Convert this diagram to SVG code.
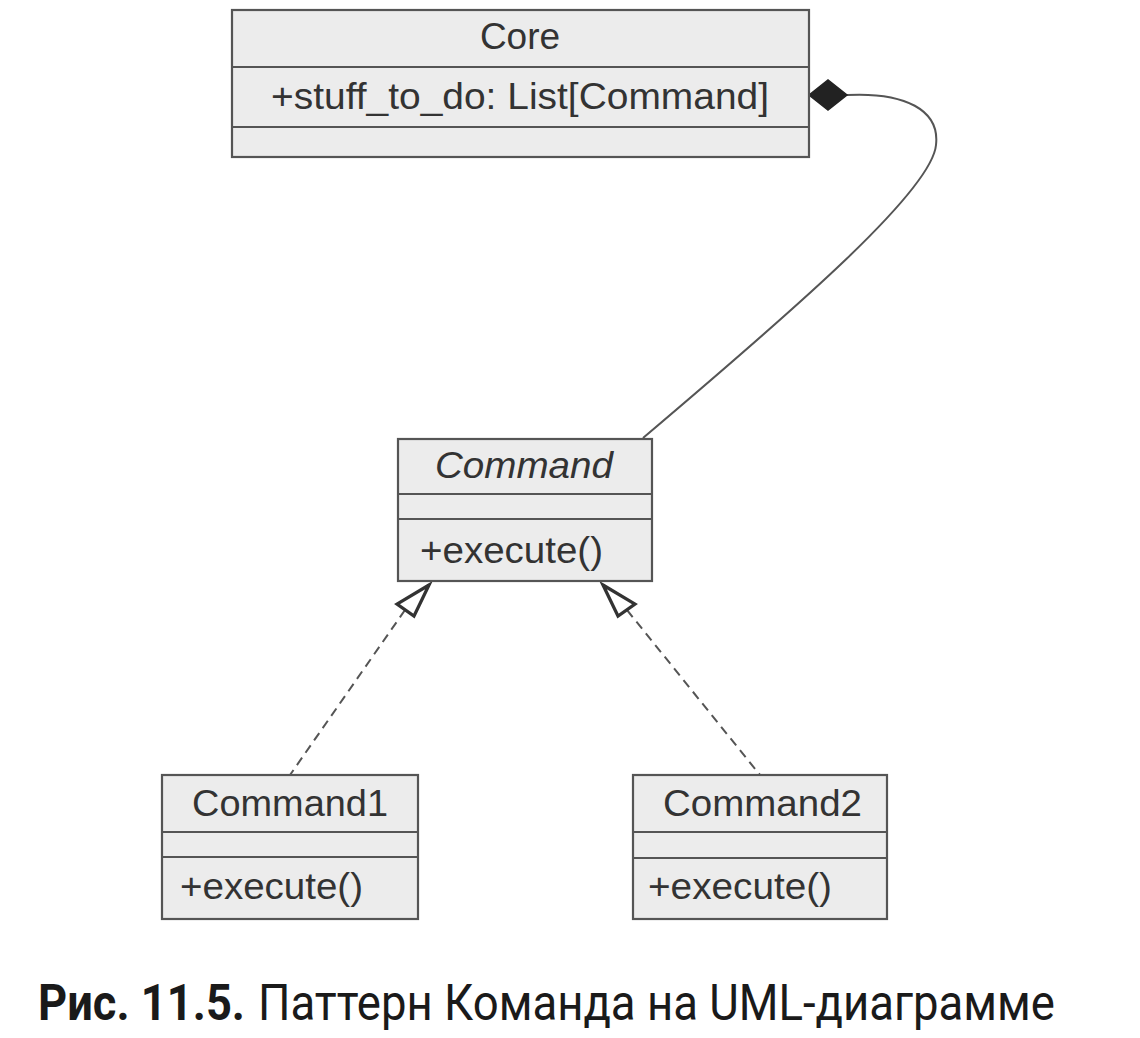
<svg xmlns="http://www.w3.org/2000/svg" width="1140" height="1038" viewBox="0 0 1140 1038">
<style>
.box{fill:#ececec;stroke:#555;stroke-width:2.2}
.div{stroke:#555;stroke-width:2.2}
.t{font-family:"Liberation Sans",Arial,sans-serif;font-size:37px;fill:#333}
.it{font-style:italic}
.conn{fill:none;stroke:#555;stroke-width:2}
.dash{fill:none;stroke:#555;stroke-width:2;stroke-dasharray:9 6}
.tri{fill:#fff;stroke:#333;stroke-width:3.2;stroke-linejoin:miter}
.cap{font-family:"Roboto","Noto Sans",sans-serif;font-size:50px;fill:#1a1a1a}
</style>
<rect width="1140" height="1038" fill="#fff"/>
<g id="connectors">
<path class="conn" d="M847,95 C905,92 940,110 936,145 C932,190 800,305 643,438"/>
<polygon points="809,95 828,80 847,95 828,110" fill="#222" stroke="#222" stroke-width="1.5"/>
<line class="dash" x1="405" y1="610" x2="290" y2="775"/>
<polygon class="tri" points="429,585 397,604 414,616"/>
<line class="dash" x1="627" y1="610" x2="760" y2="775"/>
<polygon class="tri" points="603,585 635,604 618,616"/>
</g>
<g id="core">
<rect class="box" x="232" y="10" width="577" height="147"/>
<line class="div" x1="232" y1="67" x2="809" y2="67"/>
<line class="div" x1="232" y1="127" x2="809" y2="127"/>
<text class="t" x="520" y="49" text-anchor="middle">Core</text>
<text class="t" x="271" y="109" textLength="498" lengthAdjust="spacingAndGlyphs">+stuff_to_do: List[Command]</text>
</g>
<g id="command">
<rect class="box" x="398" y="439" width="254" height="142"/>
<line class="div" x1="398" y1="494" x2="652" y2="494"/>
<line class="div" x1="398" y1="519" x2="652" y2="519"/>
<text class="t it" x="435" y="478" textLength="178" lengthAdjust="spacingAndGlyphs">Command</text>
<text class="t" x="420" y="563" textLength="183" lengthAdjust="spacingAndGlyphs">+execute()</text>
</g>
<g id="command1">
<rect class="box" x="162" y="775" width="256" height="144"/>
<line class="div" x1="162" y1="832" x2="418" y2="832"/>
<line class="div" x1="162" y1="857" x2="418" y2="857"/>
<text class="t" x="192" y="816" textLength="196" lengthAdjust="spacingAndGlyphs">Command1</text>
<text class="t" x="180" y="899" textLength="183" lengthAdjust="spacingAndGlyphs">+execute()</text>
</g>
<g id="command2">
<rect class="box" x="633" y="775" width="254" height="144"/>
<line class="div" x1="633" y1="832" x2="887" y2="832"/>
<line class="div" x1="633" y1="858" x2="887" y2="858"/>
<text class="t" x="663" y="816" textLength="199" lengthAdjust="spacingAndGlyphs">Command2</text>
<text class="t" x="648" y="899" textLength="184" lengthAdjust="spacingAndGlyphs">+execute()</text>
</g>
<g id="caption">
<text class="cap" x="38" y="1020" font-weight="bold" textLength="207" lengthAdjust="spacingAndGlyphs">Рис. 11.5.</text>
<text class="cap" x="258" y="1020" textLength="797" lengthAdjust="spacingAndGlyphs">Паттерн Команда на UML-диаграмме</text>
</g>
</svg>
